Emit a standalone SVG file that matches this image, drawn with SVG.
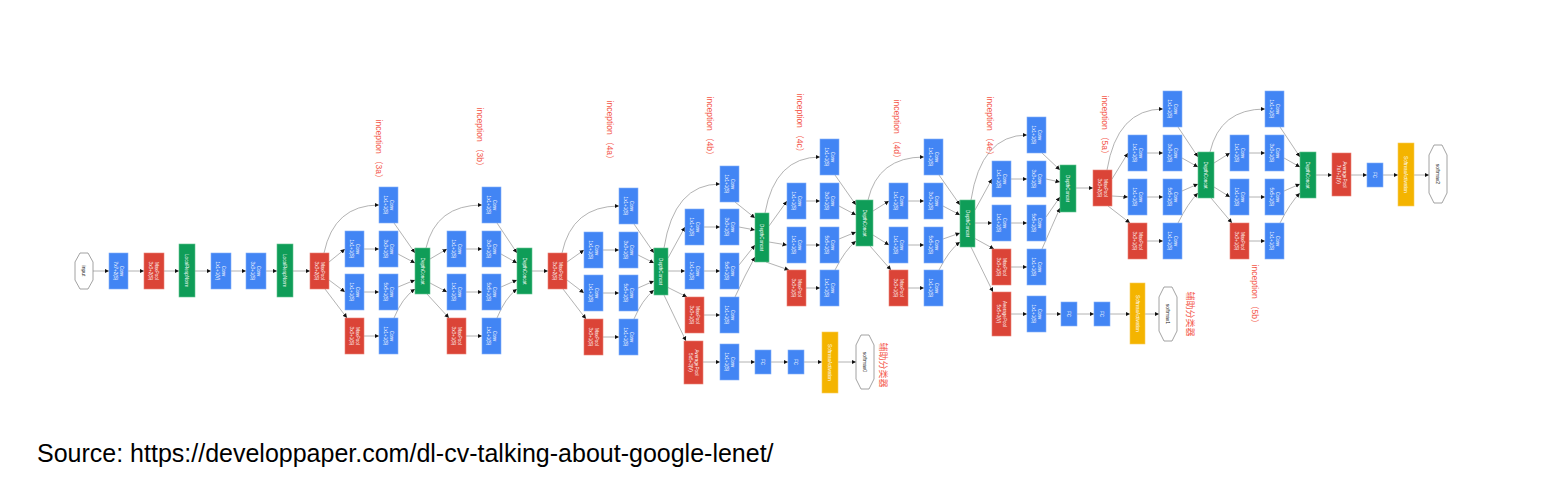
<svg xmlns="http://www.w3.org/2000/svg" width="1552" height="485" viewBox="0 0 1552 485">
<style>
.b{fill:#4285f4;stroke:#82aef8;stroke-width:.6}
.r{fill:#db4437;stroke:#ea8277;stroke-width:.6}
.g{fill:#0f9d58;stroke:#63c28f;stroke-width:.6}
.y{fill:#f4b400;stroke:#f8cc5a;stroke-width:.6}
.o{fill:#fff;stroke:#8a8a8a;stroke-width:.8}
.t{font-family:"Liberation Sans",Arial,sans-serif;font-size:4.6px;fill:#fff;text-anchor:middle}
.ot{font-family:"Liberation Sans",Arial,sans-serif;font-size:5px;fill:#222;text-anchor:middle}
.l{font-family:"Liberation Sans","Noto Sans CJK SC",sans-serif;font-size:8.5px;fill:#f4574a;text-anchor:middle}
.e{fill:none;stroke:#a0a0a0;stroke-width:.8;marker-end:url(#a)}
.src{font-family:"Liberation Sans",Arial,sans-serif;font-size:25px;fill:#000}
</style>
<defs>
<marker id="a" markerUnits="userSpaceOnUse" markerWidth="5" markerHeight="5" refX="4.5" refY="2.5" orient="auto"><path d="M0,0.3 L4.5,2.5 L0,4.7 z" fill="#111"/></marker>
</defs>
<rect width="1552" height="485" fill="#fff"/>

<g id="connectors">
<path class="e" d="M93,271 L109,271"/><path class="e" d="M128,271 L144,271"/><path class="e" d="M164,271 L179,271"/><path class="e" d="M195,271 L211,271"/><path class="e" d="M231,271 L246,271"/><path class="e" d="M266,271 L277,271"/><path class="e" d="M293,271 L310,271"/>
<path class="e" d="M324,253 Q334,205 379,205"/><path class="e" d="M329,262 L345,249"/><path class="e" d="M329,280 L345,292"/><path class="e" d="M325,289 L347,318"/>
<path class="e" d="M364,249 L379,249"/><path class="e" d="M364,292 L379,292"/><path class="e" d="M364,336 L379,336"/>
<path class="e" d="M394,223 L415,253"/><path class="e" d="M398,254 L415,263"/><path class="e" d="M398,287 L415,280"/><path class="e" d="M394,318 Q402,298 415,289"/>
<path class="e" d="M426,248 Q436,205 482,205"/><path class="e" d="M430,259 L447,249"/><path class="e" d="M430,283 L447,292"/><path class="e" d="M427,294 L449,318"/>
<path class="e" d="M466,249 L482,249"/><path class="e" d="M466,292 L482,292"/><path class="e" d="M466,336 L482,336"/>
<path class="e" d="M497,223 L517,253"/><path class="e" d="M501,254 L517,263"/><path class="e" d="M501,287 L517,280"/><path class="e" d="M497,318 Q505,298 517,289"/>
<path class="e" d="M532,271 L548,271"/>
<path class="e" d="M562,253 Q572,206 619,206"/><path class="e" d="M567,262 L584,250"/><path class="e" d="M567,280 L584,293"/><path class="e" d="M563,289 L586,319"/>
<path class="e" d="M603,250 L619,250"/><path class="e" d="M603,293 L619,293"/><path class="e" d="M603,337 L619,337"/>
<path class="e" d="M634,224 L654,253"/><path class="e" d="M638,255 L654,263"/><path class="e" d="M638,288 L654,281"/><path class="e" d="M634,319 Q642,300 654,290"/>
<path class="e" d="M664,248 Q674,184 720,184"/><path class="e" d="M668,258 L685,227"/><path class="e" d="M668,271 L685,271"/><path class="e" d="M667,287 L687,297"/><path class="e" d="M664,295 L686,341"/>
<path class="e" d="M704,227 L720,227"/><path class="e" d="M704,271 L720,271"/><path class="e" d="M704,315 L720,315"/>
<path class="e" d="M735,202 L755,218"/><path class="e" d="M739,227 L755,230"/><path class="e" d="M739,265 L755,245"/><path class="e" d="M735,297 Q745,275 755,257"/>
<path class="e" d="M703,362 L720,362"/><path class="e" d="M739,362 L755,362"/><path class="e" d="M771,362 L788,362"/><path class="e" d="M804,362 L822,362"/><path class="e" d="M838,362 L856,362"/>
<path class="e" d="M765,213 Q775,157 820,157"/><path class="e" d="M769,226 L787,201"/><path class="e" d="M769,242 L787,245"/><path class="e" d="M766,262 L789,270"/>
<path class="e" d="M806,201 L820,201"/><path class="e" d="M806,245 L820,245"/><path class="e" d="M806,288 L820,288"/>
<path class="e" d="M835,175 L856,205"/><path class="e" d="M839,206 L856,215"/><path class="e" d="M839,239 L856,232"/><path class="e" d="M835,270 Q845,250 856,241"/>
<path class="e" d="M868,200 Q878,157 924,157"/><path class="e" d="M873,211 L889,201"/><path class="e" d="M873,235 L889,245"/><path class="e" d="M870,246 L891,270"/>
<path class="e" d="M908,201 L924,201"/><path class="e" d="M908,245 L924,245"/><path class="e" d="M908,288 L924,288"/>
<path class="e" d="M939,175 L960,205"/><path class="e" d="M943,206 L960,215"/><path class="e" d="M943,239 L960,233"/><path class="e" d="M939,270 Q949,250 960,242"/>
<path class="e" d="M971,200 Q981,135 1027,135"/><path class="e" d="M975,210 L992,179"/><path class="e" d="M975,223 L992,223"/><path class="e" d="M974,238 L994,249"/><path class="e" d="M971,247 L993,292"/>
<path class="e" d="M1011,179 L1027,179"/><path class="e" d="M1011,223 L1027,223"/><path class="e" d="M1011,267 L1027,267"/>
<path class="e" d="M1042,153 L1060,170"/><path class="e" d="M1046,179 L1060,182"/><path class="e" d="M1046,217 L1060,197"/><path class="e" d="M1042,249 Q1052,226 1060,208"/>
<path class="e" d="M1011,314 L1027,314"/><path class="e" d="M1046,314 L1061,314"/><path class="e" d="M1077,314 L1094,314"/><path class="e" d="M1110,314 L1130,314"/><path class="e" d="M1145,314 L1159,314"/>
<path class="e" d="M1076,188 L1093,188"/>
<path class="e" d="M1107,170 Q1117,109 1163,109"/><path class="e" d="M1112,179 L1128,153"/><path class="e" d="M1112,196 L1128,197"/><path class="e" d="M1108,206 L1130,223"/>
<path class="e" d="M1147,153 L1163,153"/><path class="e" d="M1147,197 L1163,197"/><path class="e" d="M1147,241 L1163,241"/>
<path class="e" d="M1178,127 L1198,157"/><path class="e" d="M1182,158 L1198,167"/><path class="e" d="M1182,191 L1198,184"/><path class="e" d="M1178,223 Q1188,203 1198,193"/>
<path class="e" d="M1210,152 Q1220,109 1265,109"/><path class="e" d="M1214,163 L1230,153"/><path class="e" d="M1214,187 L1230,197"/><path class="e" d="M1211,198 L1232,223"/>
<path class="e" d="M1249,153 L1265,153"/><path class="e" d="M1249,197 L1265,197"/><path class="e" d="M1249,241 L1265,241"/>
<path class="e" d="M1280,127 L1300,157"/><path class="e" d="M1284,158 L1300,167"/><path class="e" d="M1284,191 L1300,184"/><path class="e" d="M1280,223 Q1290,203 1300,193"/>
<path class="e" d="M1316,175 L1332,175"/><path class="e" d="M1351,175 L1367,175"/><path class="e" d="M1383,175 L1398,175"/><path class="e" d="M1414,175 L1429,175"/>
</g>

<g id="input"><polygon class="o" points="80,253 88,253 93,262 93,280 88,289 80,289 75,280 75,262"/><text class="ot" transform="translate(84,271) rotate(90)" y="1.7">input</text></g>
<g id="conv1" transform="translate(109,253)"><rect class="b" width="19" height="36"/><text class="t" transform="translate(9.5,18) rotate(90)"><tspan x="0" y="-1">Conv</tspan><tspan x="0" y="5">7x7+2(S)</tspan></text></g>
<g id="pool1" transform="translate(144,253)"><rect class="r" width="20" height="36"/><text class="t" transform="translate(10,18) rotate(90)"><tspan x="0" y="-1">MaxPool</tspan><tspan x="0" y="5">3x3+2(S)</tspan></text></g>
<g id="lrn1" transform="translate(179,244)"><rect class="g" width="16" height="53"/><text class="t" transform="translate(8,26.5) rotate(90)" y="1.7">LocalRespNorm</text></g>
<g id="conv2" transform="translate(211,253)"><rect class="b" width="20" height="36"/><text class="t" transform="translate(10,18) rotate(90)"><tspan x="0" y="-1">Conv</tspan><tspan x="0" y="5">1x1+1(V)</tspan></text></g>
<g id="conv3" transform="translate(246,253)"><rect class="b" width="20" height="36"/><text class="t" transform="translate(10,18) rotate(90)"><tspan x="0" y="-1">Conv</tspan><tspan x="0" y="5">3x3+1(S)</tspan></text></g>
<g id="lrn2" transform="translate(277,244)"><rect class="g" width="16" height="53"/><text class="t" transform="translate(8,26.5) rotate(90)" y="1.7">LocalRespNorm</text></g>
<g id="pool2" transform="translate(310,253)"><rect class="r" width="19" height="36"/><text class="t" transform="translate(9.5,18) rotate(90)"><tspan x="0" y="-1">MaxPool</tspan><tspan x="0" y="5">3x3+2(S)</tspan></text></g>

<g id="i3a_c1" transform="translate(379,187)"><rect class="b" width="19" height="36"/><text class="t" transform="translate(9.5,18) rotate(90)"><tspan x="0" y="-1">Conv</tspan><tspan x="0" y="5">1x1+1(S)</tspan></text></g>
<g id="i3a_r3a" transform="translate(345,231)"><rect class="b" width="19" height="36"/><text class="t" transform="translate(9.5,18) rotate(90)"><tspan x="0" y="-1">Conv</tspan><tspan x="0" y="5">1x1+1(S)</tspan></text></g>
<g id="i3a_c3" transform="translate(379,231)"><rect class="b" width="19" height="36"/><text class="t" transform="translate(9.5,18) rotate(90)"><tspan x="0" y="-1">Conv</tspan><tspan x="0" y="5">3x3+1(S)</tspan></text></g>
<g id="i3a_r5a" transform="translate(345,274)"><rect class="b" width="19" height="36"/><text class="t" transform="translate(9.5,18) rotate(90)"><tspan x="0" y="-1">Conv</tspan><tspan x="0" y="5">1x1+1(S)</tspan></text></g>
<g id="i3a_c5" transform="translate(379,274)"><rect class="b" width="19" height="36"/><text class="t" transform="translate(9.5,18) rotate(90)"><tspan x="0" y="-1">Conv</tspan><tspan x="0" y="5">5x5+1(S)</tspan></text></g>
<g id="i3a_mp" transform="translate(345,318)"><rect class="r" width="19" height="36"/><text class="t" transform="translate(9.5,18) rotate(90)"><tspan x="0" y="-1">MaxPool</tspan><tspan x="0" y="5">3x3+1(S)</tspan></text></g>
<g id="i3a_pp" transform="translate(379,318)"><rect class="b" width="19" height="36"/><text class="t" transform="translate(9.5,18) rotate(90)"><tspan x="0" y="-1">Conv</tspan><tspan x="0" y="5">1x1+1(S)</tspan></text></g>
<g id="i3a_dc" transform="translate(415,248)"><rect class="g" width="15" height="46"/><text class="t" transform="translate(7.5,23) rotate(90)" y="1.7">DepthConcat</text></g>

<g id="i3b_c1" transform="translate(482,187)"><rect class="b" width="19" height="36"/><text class="t" transform="translate(9.5,18) rotate(90)"><tspan x="0" y="-1">Conv</tspan><tspan x="0" y="5">1x1+1(S)</tspan></text></g>
<g id="i3b_r3a" transform="translate(447,231)"><rect class="b" width="19" height="36"/><text class="t" transform="translate(9.5,18) rotate(90)"><tspan x="0" y="-1">Conv</tspan><tspan x="0" y="5">1x1+1(S)</tspan></text></g>
<g id="i3b_c3" transform="translate(482,231)"><rect class="b" width="19" height="36"/><text class="t" transform="translate(9.5,18) rotate(90)"><tspan x="0" y="-1">Conv</tspan><tspan x="0" y="5">3x3+1(S)</tspan></text></g>
<g id="i3b_r5a" transform="translate(447,274)"><rect class="b" width="19" height="36"/><text class="t" transform="translate(9.5,18) rotate(90)"><tspan x="0" y="-1">Conv</tspan><tspan x="0" y="5">1x1+1(S)</tspan></text></g>
<g id="i3b_c5" transform="translate(482,274)"><rect class="b" width="19" height="36"/><text class="t" transform="translate(9.5,18) rotate(90)"><tspan x="0" y="-1">Conv</tspan><tspan x="0" y="5">5x5+1(S)</tspan></text></g>
<g id="i3b_mp" transform="translate(447,318)"><rect class="r" width="19" height="36"/><text class="t" transform="translate(9.5,18) rotate(90)"><tspan x="0" y="-1">MaxPool</tspan><tspan x="0" y="5">3x3+1(S)</tspan></text></g>
<g id="i3b_pp" transform="translate(482,318)"><rect class="b" width="19" height="36"/><text class="t" transform="translate(9.5,18) rotate(90)"><tspan x="0" y="-1">Conv</tspan><tspan x="0" y="5">1x1+1(S)</tspan></text></g>
<g id="i3b_dc" transform="translate(517,248)"><rect class="g" width="15" height="46"/><text class="t" transform="translate(7.5,23) rotate(90)" y="1.7">DepthConcat</text></g>

<g id="pool3" transform="translate(548,253)"><rect class="r" width="19" height="36"/><text class="t" transform="translate(9.5,18) rotate(90)"><tspan x="0" y="-1">MaxPool</tspan><tspan x="0" y="5">3x3+2(S)</tspan></text></g>

<g id="i4a_c1" transform="translate(619,188)"><rect class="b" width="19" height="36"/><text class="t" transform="translate(9.5,18) rotate(90)"><tspan x="0" y="-1">Conv</tspan><tspan x="0" y="5">1x1+1(S)</tspan></text></g>
<g id="i4a_r3a" transform="translate(584,232)"><rect class="b" width="19" height="36"/><text class="t" transform="translate(9.5,18) rotate(90)"><tspan x="0" y="-1">Conv</tspan><tspan x="0" y="5">1x1+1(S)</tspan></text></g>
<g id="i4a_c3" transform="translate(619,232)"><rect class="b" width="19" height="36"/><text class="t" transform="translate(9.5,18) rotate(90)"><tspan x="0" y="-1">Conv</tspan><tspan x="0" y="5">3x3+1(S)</tspan></text></g>
<g id="i4a_r5a" transform="translate(584,275)"><rect class="b" width="19" height="36"/><text class="t" transform="translate(9.5,18) rotate(90)"><tspan x="0" y="-1">Conv</tspan><tspan x="0" y="5">1x1+1(S)</tspan></text></g>
<g id="i4a_c5" transform="translate(619,275)"><rect class="b" width="19" height="36"/><text class="t" transform="translate(9.5,18) rotate(90)"><tspan x="0" y="-1">Conv</tspan><tspan x="0" y="5">5x5+1(S)</tspan></text></g>
<g id="i4a_mp" transform="translate(584,319)"><rect class="r" width="19" height="36"/><text class="t" transform="translate(9.5,18) rotate(90)"><tspan x="0" y="-1">MaxPool</tspan><tspan x="0" y="5">3x3+1(S)</tspan></text></g>
<g id="i4a_pp" transform="translate(619,319)"><rect class="b" width="19" height="36"/><text class="t" transform="translate(9.5,18) rotate(90)"><tspan x="0" y="-1">Conv</tspan><tspan x="0" y="5">1x1+1(S)</tspan></text></g>
<g id="i4a_dc" transform="translate(654,248)"><rect class="g" width="14" height="47"/><text class="t" transform="translate(7,23.5) rotate(90)" y="1.7">DepthConcat</text></g>

<g id="i4b_c1" transform="translate(720,166)"><rect class="b" width="19" height="36"/><text class="t" transform="translate(9.5,18) rotate(90)"><tspan x="0" y="-1">Conv</tspan><tspan x="0" y="5">1x1+1(S)</tspan></text></g>
<g id="i4b_r3a" transform="translate(685,209)"><rect class="b" width="19" height="36"/><text class="t" transform="translate(9.5,18) rotate(90)"><tspan x="0" y="-1">Conv</tspan><tspan x="0" y="5">1x1+1(S)</tspan></text></g>
<g id="i4b_c3" transform="translate(720,209)"><rect class="b" width="19" height="36"/><text class="t" transform="translate(9.5,18) rotate(90)"><tspan x="0" y="-1">Conv</tspan><tspan x="0" y="5">3x3+1(S)</tspan></text></g>
<g id="i4b_r5a" transform="translate(685,253)"><rect class="b" width="19" height="36"/><text class="t" transform="translate(9.5,18) rotate(90)"><tspan x="0" y="-1">Conv</tspan><tspan x="0" y="5">1x1+1(S)</tspan></text></g>
<g id="i4b_c5" transform="translate(720,253)"><rect class="b" width="19" height="36"/><text class="t" transform="translate(9.5,18) rotate(90)"><tspan x="0" y="-1">Conv</tspan><tspan x="0" y="5">5x5+1(S)</tspan></text></g>
<g id="i4b_mp" transform="translate(685,297)"><rect class="r" width="19" height="36"/><text class="t" transform="translate(9.5,18) rotate(90)"><tspan x="0" y="-1">MaxPool</tspan><tspan x="0" y="5">3x3+1(S)</tspan></text></g>
<g id="i4b_pp" transform="translate(720,297)"><rect class="b" width="19" height="36"/><text class="t" transform="translate(9.5,18) rotate(90)"><tspan x="0" y="-1">Conv</tspan><tspan x="0" y="5">1x1+1(S)</tspan></text></g>
<g id="i4b_dc" transform="translate(755,213)"><rect class="g" width="14" height="49"/><text class="t" transform="translate(7,24.5) rotate(90)" y="1.7">DepthConcat</text></g>

<g id="aux0_pool" transform="translate(684,341)"><rect class="r" width="19" height="43"/><text class="t" transform="translate(9.5,21.5) rotate(90)"><tspan x="0" y="-1">AveragePool</tspan><tspan x="0" y="5">5x5+3(V)</tspan></text></g>
<g id="aux0_conv" transform="translate(720,344)"><rect class="b" width="19" height="36"/><text class="t" transform="translate(9.5,18) rotate(90)"><tspan x="0" y="-1">Conv</tspan><tspan x="0" y="5">1x1+1(S)</tspan></text></g>
<g id="aux0_fc1" transform="translate(755,350)"><rect class="b" width="16" height="24"/><text class="t" transform="translate(8,12) rotate(90)" y="1.7">FC</text></g>
<g id="aux0_fc2" transform="translate(788,350)"><rect class="b" width="16" height="24"/><text class="t" transform="translate(8,12) rotate(90)" y="1.7">FC</text></g>
<g id="aux0_sm" transform="translate(822,332)"><rect class="y" width="16" height="61"/><text class="t" transform="translate(8,30.5) rotate(90)" y="1.7">SoftmaxActivation</text></g>
<g id="softmax0"><polygon class="o" points="861,335 869,335 874,345 874,379 869,389 861,389 856,379 856,345"/><text class="ot" transform="translate(865,362) rotate(90)" y="1.7">softmax0</text></g>

<g id="i4c_c1" transform="translate(820,139)"><rect class="b" width="19" height="36"/><text class="t" transform="translate(9.5,18) rotate(90)"><tspan x="0" y="-1">Conv</tspan><tspan x="0" y="5">1x1+1(S)</tspan></text></g>
<g id="i4c_r3a" transform="translate(787,183)"><rect class="b" width="19" height="36"/><text class="t" transform="translate(9.5,18) rotate(90)"><tspan x="0" y="-1">Conv</tspan><tspan x="0" y="5">1x1+1(S)</tspan></text></g>
<g id="i4c_c3" transform="translate(820,183)"><rect class="b" width="19" height="36"/><text class="t" transform="translate(9.5,18) rotate(90)"><tspan x="0" y="-1">Conv</tspan><tspan x="0" y="5">3x3+1(S)</tspan></text></g>
<g id="i4c_r5a" transform="translate(787,227)"><rect class="b" width="19" height="36"/><text class="t" transform="translate(9.5,18) rotate(90)"><tspan x="0" y="-1">Conv</tspan><tspan x="0" y="5">1x1+1(S)</tspan></text></g>
<g id="i4c_c5" transform="translate(820,227)"><rect class="b" width="19" height="36"/><text class="t" transform="translate(9.5,18) rotate(90)"><tspan x="0" y="-1">Conv</tspan><tspan x="0" y="5">5x5+1(S)</tspan></text></g>
<g id="i4c_mp" transform="translate(787,270)"><rect class="r" width="19" height="36"/><text class="t" transform="translate(9.5,18) rotate(90)"><tspan x="0" y="-1">MaxPool</tspan><tspan x="0" y="5">3x3+1(S)</tspan></text></g>
<g id="i4c_pp" transform="translate(820,270)"><rect class="b" width="19" height="36"/><text class="t" transform="translate(9.5,18) rotate(90)"><tspan x="0" y="-1">Conv</tspan><tspan x="0" y="5">1x1+1(S)</tspan></text></g>
<g id="i4c_dc" transform="translate(856,200)"><rect class="g" width="17" height="46"/><text class="t" transform="translate(8.5,23) rotate(90)" y="1.7">DepthConcat</text></g>

<g id="i4d_c1" transform="translate(924,139)"><rect class="b" width="19" height="36"/><text class="t" transform="translate(9.5,18) rotate(90)"><tspan x="0" y="-1">Conv</tspan><tspan x="0" y="5">1x1+1(S)</tspan></text></g>
<g id="i4d_r3a" transform="translate(889,183)"><rect class="b" width="19" height="36"/><text class="t" transform="translate(9.5,18) rotate(90)"><tspan x="0" y="-1">Conv</tspan><tspan x="0" y="5">1x1+1(S)</tspan></text></g>
<g id="i4d_c3" transform="translate(924,183)"><rect class="b" width="19" height="36"/><text class="t" transform="translate(9.5,18) rotate(90)"><tspan x="0" y="-1">Conv</tspan><tspan x="0" y="5">3x3+1(S)</tspan></text></g>
<g id="i4d_r5a" transform="translate(889,227)"><rect class="b" width="19" height="36"/><text class="t" transform="translate(9.5,18) rotate(90)"><tspan x="0" y="-1">Conv</tspan><tspan x="0" y="5">1x1+1(S)</tspan></text></g>
<g id="i4d_c5" transform="translate(924,227)"><rect class="b" width="19" height="36"/><text class="t" transform="translate(9.5,18) rotate(90)"><tspan x="0" y="-1">Conv</tspan><tspan x="0" y="5">5x5+1(S)</tspan></text></g>
<g id="i4d_mp" transform="translate(889,270)"><rect class="r" width="19" height="36"/><text class="t" transform="translate(9.5,18) rotate(90)"><tspan x="0" y="-1">MaxPool</tspan><tspan x="0" y="5">3x3+1(S)</tspan></text></g>
<g id="i4d_pp" transform="translate(924,270)"><rect class="b" width="19" height="36"/><text class="t" transform="translate(9.5,18) rotate(90)"><tspan x="0" y="-1">Conv</tspan><tspan x="0" y="5">1x1+1(S)</tspan></text></g>
<g id="i4d_dc" transform="translate(960,200)"><rect class="g" width="15" height="47"/><text class="t" transform="translate(7.5,23.5) rotate(90)" y="1.7">DepthConcat</text></g>

<g id="i4e_c1" transform="translate(1027,117)"><rect class="b" width="19" height="36"/><text class="t" transform="translate(9.5,18) rotate(90)"><tspan x="0" y="-1">Conv</tspan><tspan x="0" y="5">1x1+1(S)</tspan></text></g>
<g id="i4e_r3a" transform="translate(992,161)"><rect class="b" width="19" height="36"/><text class="t" transform="translate(9.5,18) rotate(90)"><tspan x="0" y="-1">Conv</tspan><tspan x="0" y="5">1x1+1(S)</tspan></text></g>
<g id="i4e_c3" transform="translate(1027,161)"><rect class="b" width="19" height="36"/><text class="t" transform="translate(9.5,18) rotate(90)"><tspan x="0" y="-1">Conv</tspan><tspan x="0" y="5">3x3+1(S)</tspan></text></g>
<g id="i4e_r5a" transform="translate(992,205)"><rect class="b" width="19" height="36"/><text class="t" transform="translate(9.5,18) rotate(90)"><tspan x="0" y="-1">Conv</tspan><tspan x="0" y="5">1x1+1(S)</tspan></text></g>
<g id="i4e_c5" transform="translate(1027,205)"><rect class="b" width="19" height="36"/><text class="t" transform="translate(9.5,18) rotate(90)"><tspan x="0" y="-1">Conv</tspan><tspan x="0" y="5">5x5+1(S)</tspan></text></g>
<g id="i4e_mp" transform="translate(992,249)"><rect class="r" width="19" height="36"/><text class="t" transform="translate(9.5,18) rotate(90)"><tspan x="0" y="-1">MaxPool</tspan><tspan x="0" y="5">3x3+1(S)</tspan></text></g>
<g id="i4e_pp" transform="translate(1027,249)"><rect class="b" width="19" height="36"/><text class="t" transform="translate(9.5,18) rotate(90)"><tspan x="0" y="-1">Conv</tspan><tspan x="0" y="5">1x1+1(S)</tspan></text></g>
<g id="i4e_dc" transform="translate(1060,165)"><rect class="g" width="16" height="47"/><text class="t" transform="translate(8,23.5) rotate(90)" y="1.7">DepthConcat</text></g>

<g id="aux1_pool" transform="translate(992,292)"><rect class="r" width="19" height="44"/><text class="t" transform="translate(9.5,22) rotate(90)"><tspan x="0" y="-1">AveragePool</tspan><tspan x="0" y="5">5x5+3(V)</tspan></text></g>
<g id="aux1_conv" transform="translate(1027,296)"><rect class="b" width="19" height="36"/><text class="t" transform="translate(9.5,18) rotate(90)"><tspan x="0" y="-1">Conv</tspan><tspan x="0" y="5">1x1+1(S)</tspan></text></g>
<g id="aux1_fc1" transform="translate(1061,302)"><rect class="b" width="16" height="24"/><text class="t" transform="translate(8,12) rotate(90)" y="1.7">FC</text></g>
<g id="aux1_fc2" transform="translate(1094,302)"><rect class="b" width="16" height="24"/><text class="t" transform="translate(8,12) rotate(90)" y="1.7">FC</text></g>
<g id="aux1_sm" transform="translate(1130,283)"><rect class="y" width="15" height="61"/><text class="t" transform="translate(7.5,30.5) rotate(90)" y="1.7">SoftmaxActivation</text></g>
<g id="softmax1"><polygon class="o" points="1164,287 1172,287 1177,297 1177,331 1172,341 1164,341 1159,331 1159,297"/><text class="ot" transform="translate(1168,314) rotate(90)" y="1.7">softmax1</text></g>

<g id="pool4" transform="translate(1093,170)"><rect class="r" width="19" height="36"/><text class="t" transform="translate(9.5,18) rotate(90)"><tspan x="0" y="-1">MaxPool</tspan><tspan x="0" y="5">3x3+2(S)</tspan></text></g>

<g id="i5a_c1" transform="translate(1163,91)"><rect class="b" width="19" height="36"/><text class="t" transform="translate(9.5,18) rotate(90)"><tspan x="0" y="-1">Conv</tspan><tspan x="0" y="5">1x1+1(S)</tspan></text></g>
<g id="i5a_r3a" transform="translate(1128,135)"><rect class="b" width="19" height="36"/><text class="t" transform="translate(9.5,18) rotate(90)"><tspan x="0" y="-1">Conv</tspan><tspan x="0" y="5">1x1+1(S)</tspan></text></g>
<g id="i5a_c3" transform="translate(1163,135)"><rect class="b" width="19" height="36"/><text class="t" transform="translate(9.5,18) rotate(90)"><tspan x="0" y="-1">Conv</tspan><tspan x="0" y="5">3x3+1(S)</tspan></text></g>
<g id="i5a_r5a" transform="translate(1128,179)"><rect class="b" width="19" height="36"/><text class="t" transform="translate(9.5,18) rotate(90)"><tspan x="0" y="-1">Conv</tspan><tspan x="0" y="5">1x1+1(S)</tspan></text></g>
<g id="i5a_c5" transform="translate(1163,179)"><rect class="b" width="19" height="36"/><text class="t" transform="translate(9.5,18) rotate(90)"><tspan x="0" y="-1">Conv</tspan><tspan x="0" y="5">5x5+1(S)</tspan></text></g>
<g id="i5a_mp" transform="translate(1128,223)"><rect class="r" width="19" height="36"/><text class="t" transform="translate(9.5,18) rotate(90)"><tspan x="0" y="-1">MaxPool</tspan><tspan x="0" y="5">3x3+1(S)</tspan></text></g>
<g id="i5a_pp" transform="translate(1163,223)"><rect class="b" width="19" height="36"/><text class="t" transform="translate(9.5,18) rotate(90)"><tspan x="0" y="-1">Conv</tspan><tspan x="0" y="5">1x1+1(S)</tspan></text></g>
<g id="i5a_dc" transform="translate(1198,152)"><rect class="g" width="16" height="46"/><text class="t" transform="translate(8,23) rotate(90)" y="1.7">DepthConcat</text></g>

<g id="i5b_c1" transform="translate(1265,91)"><rect class="b" width="19" height="36"/><text class="t" transform="translate(9.5,18) rotate(90)"><tspan x="0" y="-1">Conv</tspan><tspan x="0" y="5">1x1+1(S)</tspan></text></g>
<g id="i5b_r3a" transform="translate(1230,135)"><rect class="b" width="19" height="36"/><text class="t" transform="translate(9.5,18) rotate(90)"><tspan x="0" y="-1">Conv</tspan><tspan x="0" y="5">1x1+1(S)</tspan></text></g>
<g id="i5b_c3" transform="translate(1265,135)"><rect class="b" width="19" height="36"/><text class="t" transform="translate(9.5,18) rotate(90)"><tspan x="0" y="-1">Conv</tspan><tspan x="0" y="5">3x3+1(S)</tspan></text></g>
<g id="i5b_r5a" transform="translate(1230,179)"><rect class="b" width="19" height="36"/><text class="t" transform="translate(9.5,18) rotate(90)"><tspan x="0" y="-1">Conv</tspan><tspan x="0" y="5">1x1+1(S)</tspan></text></g>
<g id="i5b_c5" transform="translate(1265,179)"><rect class="b" width="19" height="36"/><text class="t" transform="translate(9.5,18) rotate(90)"><tspan x="0" y="-1">Conv</tspan><tspan x="0" y="5">5x5+1(S)</tspan></text></g>
<g id="i5b_mp" transform="translate(1230,223)"><rect class="r" width="19" height="36"/><text class="t" transform="translate(9.5,18) rotate(90)"><tspan x="0" y="-1">MaxPool</tspan><tspan x="0" y="5">3x3+1(S)</tspan></text></g>
<g id="i5b_pp" transform="translate(1265,223)"><rect class="b" width="19" height="36"/><text class="t" transform="translate(9.5,18) rotate(90)"><tspan x="0" y="-1">Conv</tspan><tspan x="0" y="5">1x1+1(S)</tspan></text></g>
<g id="i5b_dc" transform="translate(1300,152)"><rect class="g" width="16" height="46"/><text class="t" transform="translate(8,23) rotate(90)" y="1.7">DepthConcat</text></g>

<g id="final_pool" transform="translate(1332,153)"><rect class="r" width="19" height="43"/><text class="t" transform="translate(9.5,21.5) rotate(90)"><tspan x="0" y="-1">AveragePool</tspan><tspan x="0" y="5">7x7+1(V)</tspan></text></g>
<g id="final_fc" transform="translate(1367,163)"><rect class="b" width="16" height="24"/><text class="t" transform="translate(8,12) rotate(90)" y="1.7">FC</text></g>
<g id="final_sm" transform="translate(1398,143)"><rect class="y" width="16" height="63"/><text class="t" transform="translate(8,31.5) rotate(90)" y="1.7">SoftmaxActivation</text></g>
<g id="softmax2"><polygon class="o" points="1434,145 1442,145 1447,155 1447,193 1442,203 1434,203 1429,193 1429,155"/><text class="ot" transform="translate(1438,174) rotate(90)" y="1.7">softmax2</text></g>

<g id="labels">
<text class="l" transform="translate(379,151) rotate(90)" y="3">inception （3a）</text>
<text class="l" transform="translate(480,139) rotate(90)" y="3">inception （3b）</text>
<text class="l" transform="translate(610,132) rotate(90)" y="3">inception （4a）</text>
<text class="l" transform="translate(710,128) rotate(90)" y="3">inception （4b）</text>
<text class="l" transform="translate(800,125) rotate(90)" y="3">inception （4c）</text>
<text class="l" transform="translate(897,131) rotate(90)" y="3">inception （4d）</text>
<text class="l" transform="translate(990,128) rotate(90)" y="3">inception （4e）</text>
<text class="l" transform="translate(1105,127) rotate(90)" y="3">inception （5a）</text>
<text class="l" transform="translate(1255,296) rotate(90)" y="3">inception （5b）</text>
<text class="l" style="font-size:9px" transform="translate(883,365) rotate(90)" y="3">辅助分类器</text>
<text class="l" style="font-size:9px" transform="translate(1190,314) rotate(90)" y="3">辅助分类器</text>
</g>

<text class="src" x="37" y="462">Source: https://developpaper.com/dl-cv-talking-about-google-lenet/</text>
</svg>
